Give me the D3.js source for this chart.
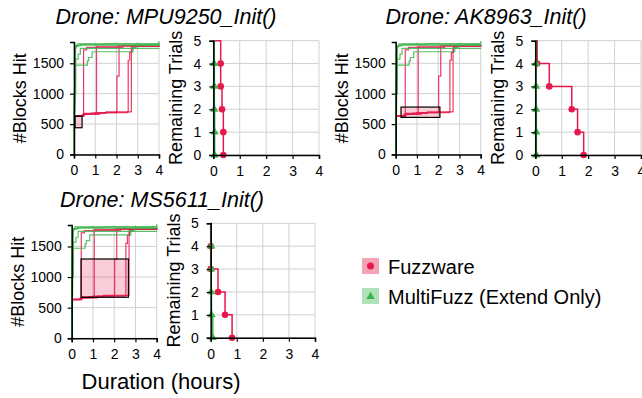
<!DOCTYPE html>
<html>
<head>
<meta charset="utf-8">
<script src="https://cdn.jsdelivr.net/npm/d3@7"></script>
<style>
  body { margin: 0; background: #fff; }
  text { font-family: "Liberation Sans", Arial, sans-serif; }
</style>
</head>
<body>
<div id="chart"></div>
<script>
// Coverage runs (same firmware, so the three coverage panels share them): [hours, blocks]
const fuzzwareRuns = [
    [[0.02, 630], [0.4, 650], [0.45, 1720], [0.6, 1760], [2.1, 1790], [4, 1795]],
    [[0.02, 630], [0.4, 660], [0.8, 680], [1.06, 1780], [4, 1800]],
    [[0.02, 635], [0.45, 665], [1.0, 690], [2.0, 700], [2.02, 1290], [2.12, 1760], [2.3, 1790], [4, 1795]],
    [[0.02, 630], [0.45, 660], [1.2, 690], [2.52, 700], [2.55, 1550], [2.62, 1680], [2.72, 1780], [4, 1790]],
    [[0.02, 640], [0.5, 675], [1.5, 700], [2.68, 705], [2.7, 1750], [2.85, 1790], [4, 1800]]
];
const multifuzzRuns = [
    [[0, 0], [0.02, 950], [0.03, 1470], [0.63, 1540], [0.69, 1595], [0.85, 1690], [2.78, 1760], [2.93, 1800], [4, 1805]],
    [[0, 0], [0.01, 700], [0.04, 1000], [0.08, 1570], [0.2, 1650], [0.3, 1745], [4, 1750]],
    [[0, 0], [0.01, 900], [0.03, 1300], [0.06, 1780], [0.2, 1800], [4, 1810]],
    [[0, 0], [0.01, 1000], [0.05, 1750], [0.1, 1790], [0.3, 1810], [1.5, 1820], [4, 1830]],
    [[0, 0], [0.02, 800], [0.04, 1200], [0.07, 1790], [0.15, 1820], [3.99, 1830], [4, 1865]]
];

// Per function
const functionNames = ["MPU9250_Init()", "AK8963_Init()", "MS5611_Init()"];
const boxHours = [[0.05, 0.38], [0.25, 2.08], [0.44, 2.67]];
const boxBlocks = [[440, 630], [610, 780], [670, 1295]];
// hours until each trial reached the target
const fuzzwareSolved = [
    [0.28, 0.28, 0.33, 0.38, 0.38],
    [0.07, 0.53, 1.38, 1.6, 1.83],
    [0, 0, 0.28, 0.55, 0.82]
];
const multifuzzSolved = [
    [0.03, 0.04, 0.04, 0.05, 0.05],
    [0.03, 0.03, 0.03, 0.04, 0.04],
    [0.02, 0.02, 0.02, 0.03, 0.08]
];

const hourTicks = [0, 1, 2, 3, 4];
const blockTicks = [0, 500, 1000, 1500];
const trialTicks = [0, 1, 2, 3, 4, 5];
const seriesNames = ["Fuzzware", "MultiFuzz (Extend Only)"];

const red = "#e6194b", green = "#3cb44b";

// layout of the panels (pixels)
const covBox = [
    {left: 74, right: 159, top: 42, bottom: 154.5},
    {left: 395.7, right: 480.7, top: 42, bottom: 154.5},
    {left: 71.7, right: 156.7, top: 225, bottom: 338.3}
];
const survBox = [
    {left: 213.3, right: 319, top: 40.7, bottom: 155},
    {left: 535.3, right: 641, top: 40.7, bottom: 155},
    {left: 210.7, right: 315, top: 223.3, bottom: 337.7}
];
const titlePos = [[166, 24], [486, 24], [162, 207]];

const svg = d3.select("#chart").append("svg")
    .attr("width", 642)
    .attr("height", 398);

function drawGrid(g, x, y, yTicks, b) {
    g.append("g").selectAll("line").data(hourTicks).join("line")
        .attr("x1", d => x(d)).attr("x2", d => x(d))
        .attr("y1", b.top).attr("y2", b.bottom)
        .attr("stroke", "#d0d0d0").attr("stroke-width", 1);
    g.append("g").selectAll("line").data(yTicks).join("line")
        .attr("x1", b.left).attr("x2", b.right)
        .attr("y1", d => y(d)).attr("y2", d => y(d))
        .attr("stroke", "#d0d0d0").attr("stroke-width", 1);
}

function styleAxis(a) {
    a.select(".domain").attr("stroke", "#000").attr("stroke-width", 1.5);
    a.selectAll(".tick line").attr("stroke", "#000").attr("stroke-width", 1.2);
    a.selectAll(".tick text").attr("font-size", 14).attr("fill", "#000")
        .attr("font-family", "'Liberation Sans', Arial, sans-serif");
}

const intFmt = d3.format("d");

functionNames.forEach((name, i) => {
    // ---- coverage panel ----
    const cb = covBox[i];
    const x = d3.scaleLinear().domain([0, 4]).range([cb.left, cb.right]);
    const y = d3.scaleLinear().domain([0, 1850]).range([cb.bottom, cb.top]);
    const g = svg.append("g");
    drawGrid(g, x, y, blockTicks, cb);

    const line = d3.line().x(d => x(d[0])).y(d => y(d[1])).curve(d3.curveStepAfter);
    fuzzwareRuns.forEach(run => {
        g.append("path").attr("d", line(run)).attr("fill", "none")
            .attr("stroke", red).attr("stroke-width", 1.2).attr("stroke-opacity", 0.85);
    });
    multifuzzRuns.forEach(run => {
        g.append("path").attr("d", line(run)).attr("fill", "none")
            .attr("stroke", green).attr("stroke-width", 1.2).attr("stroke-opacity", 0.85);
    });

    g.append("rect")
        .attr("x", x(boxHours[i][0]))
        .attr("y", y(boxBlocks[i][1]))
        .attr("width", x(boxHours[i][1]) - x(boxHours[i][0]))
        .attr("height", y(boxBlocks[i][0]) - y(boxBlocks[i][1]))
        .attr("fill", red).attr("fill-opacity", 0.22)
        .attr("stroke", "#000").attr("stroke-width", 1.2);

    styleAxis(g.append("g").attr("transform", `translate(0,${cb.bottom})`)
        .call(d3.axisBottom(x).tickValues(hourTicks).tickFormat(intFmt).tickSize(4).tickPadding(7)));
    styleAxis(g.append("g").attr("transform", `translate(${cb.left},0)`)
        .call(d3.axisLeft(y).tickValues(blockTicks).tickFormat(intFmt).tickSize(4).tickPadding(6)));

    g.append("text")
        .attr("transform", `translate(${cb.left - 48},${(cb.top + cb.bottom) / 2}) rotate(-90)`)
        .attr("text-anchor", "middle").attr("font-size", 18)
        .text("#Blocks Hit");

    // ---- survival panel ----
    const sb = survBox[i];
    const sx = d3.scaleLinear().domain([0, 4]).range([sb.left, sb.right]);
    const sy = d3.scaleLinear().domain([0, 5]).range([sb.bottom, sb.top]);
    const s = svg.append("g");
    drawGrid(s, sx, sy, trialTicks, sb);

    const sline = d3.line().x(d => sx(d[0])).y(d => sy(d[1])).curve(d3.curveStepAfter);
    const steps = times => [[0, 5]].concat(times.slice().sort(d3.ascending).map((t, k) => [t, 4 - k]));

    const fw = steps(fuzzwareSolved[i]);
    const mf = steps(multifuzzSolved[i]);

    s.append("path").attr("d", sline(fw)).attr("fill", "none")
        .attr("stroke", red).attr("stroke-width", 1.5);
    s.selectAll(".fwpt").data(fw.slice(1)).join("circle")
        .attr("cx", d => sx(d[0])).attr("cy", d => sy(d[1])).attr("r", 3.3)
        .attr("fill", red);

    s.append("path").attr("d", sline(mf)).attr("fill", "none")
        .attr("stroke", green).attr("stroke-width", 1.5);
    s.selectAll(".mfpt").data(mf.slice(1)).join("path")
        .attr("d", d3.symbol(d3.symbolTriangle, 30))
        .attr("transform", d => `translate(${sx(d[0])},${sy(d[1])})`)
        .attr("fill", green);

    styleAxis(s.append("g").attr("transform", `translate(0,${sb.bottom})`)
        .call(d3.axisBottom(sx).tickValues(hourTicks).tickFormat(intFmt).tickSize(4).tickPadding(7)));
    styleAxis(s.append("g").attr("transform", `translate(${sb.left},0)`)
        .call(d3.axisLeft(sy).tickValues(trialTicks).tickFormat(intFmt).tickSize(4).tickPadding(8)));

    s.append("text")
        .attr("transform", `translate(${sb.left - 31},${(sb.top + sb.bottom) / 2}) rotate(-90)`)
        .attr("text-anchor", "middle").attr("font-size", 18)
        .text("Remaining Trials");

    // title
    svg.append("text")
        .attr("x", titlePos[i][0]).attr("y", titlePos[i][1])
        .attr("text-anchor", "middle").attr("font-size", 21.5)
        .attr("font-style", "italic")
        .text("Drone: " + name);
});

// x label
svg.append("text")
    .attr("x", 161).attr("y", 389)
    .attr("text-anchor", "middle").attr("font-size", 22)
    .text("Duration (hours)");

// legend
const legend = svg.append("g").attr("transform", "translate(362,258)");
seriesNames.forEach((n, i) => {
    const row = legend.append("g").attr("transform", `translate(0,${i * 30})`);
    row.append("rect").attr("width", 17).attr("height", 16)
        .attr("fill", i === 0 ? red : green).attr("fill-opacity", 0.4);
    if (i === 0) {
        row.append("circle").attr("cx", 8.5).attr("cy", 8).attr("r", 3.5).attr("fill", red);
    } else {
        row.append("path").attr("d", d3.symbol(d3.symbolTriangle, 30))
            .attr("transform", "translate(8.5,8.5)").attr("fill", green);
    }
    row.append("text").attr("x", 26).attr("y", 15.5)
        .attr("font-size", 20).text(n);
});
</script>
</body>
</html>
